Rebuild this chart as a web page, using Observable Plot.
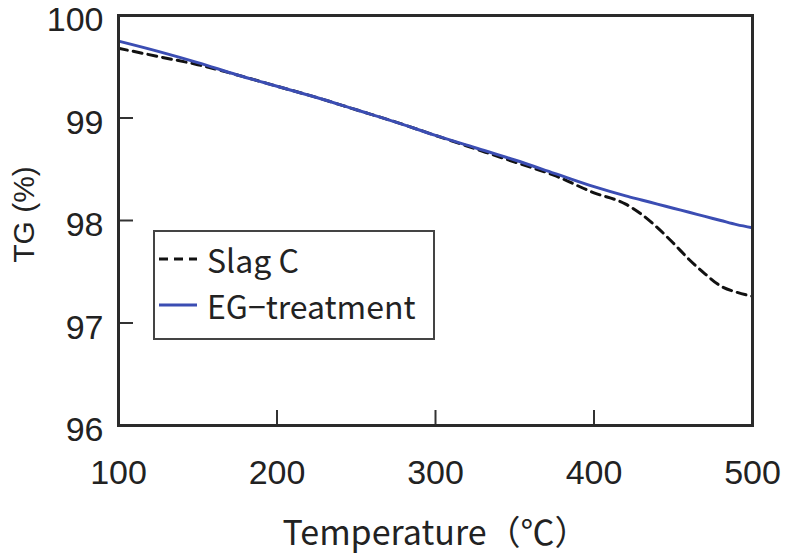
<!DOCTYPE html>
<html>
<head>
<meta charset="utf-8">
<script src="https://cdn.jsdelivr.net/npm/d3@7"></script>
<script src="https://cdn.jsdelivr.net/npm/@observablehq/plot@0.6"></script>
<style>
  html, body { margin: 0; padding: 0; background: #fff; }
  #wrap { position: relative; width: 787px; height: 556px; }
  #legend {
    position: absolute; left: 153px; top: 230px; width: 282px; height: 110px;
    border: 2px solid #444; background: #fff; box-sizing: border-box;
    font-family: "Noto Sans CJK JP", "Noto Sans", sans-serif; font-size: 32px; color: #222;
  }
  #legend .row { position: absolute; left: 0; display: flex; align-items: center; height: 40px; }
  #legend svg { display: block; }
</style>
</head>
<body>
<div id="wrap"></div>
<script>
// Temperature (°C)
const temps = [100, 125, 150, 175, 200, 225, 250, 275, 300, 325, 350, 375, 400, 420, 430, 440, 450, 460, 470, 480, 490, 500];
// Slag C (dashed) TG (%)
const slagC = [99.68, 99.60, 99.52, 99.42, 99.31, 99.20, 99.08, 98.96, 98.83, 98.70, 98.57, 98.44, 98.27, 98.16, 98.06, 97.93, 97.78, 97.62, 97.48, 97.36, 97.30, 97.26];
// EG-treatment (blue) TG (%)
const egTreat = [99.75, 99.65, 99.54, 99.42, 99.31, 99.20, 99.08, 98.96, 98.83, 98.71, 98.59, 98.46, 98.33, 98.24, 98.20, 98.16, 98.12, 98.08, 98.04, 98.00, 97.96, 97.93];
const seriesNames = ["Slag C", "EG-treatment"];
const xTicks = [100, 200, 300, 400, 500];
const yTicks = [96, 97, 98, 99, 100];
const xTitle = "Temperature（℃）";
const yTitle = "TG (%)";

const slagData = temps.map((t, i) => ({t, v: slagC[i]}));
const egData = temps.map((t, i) => ({t, v: egTreat[i]}));

const numFont = '"Liberation Sans", Arial, sans-serif';

const chart = Plot.plot({
  width: 787,
  height: 556,
  marginLeft: 118,
  marginRight: 35,
  marginTop: 15,
  marginBottom: 131,
  style: {background: "#fff", color: "#222"},
  x: {domain: [100, 500]},
  y: {domain: [96, 100]},
  marks: [
    Plot.line(slagData, {x: "t", y: "v", stroke: "#111", strokeWidth: 3, strokeDasharray: "9,6", curve: "monotone-x"}),
    Plot.line(egData, {x: "t", y: "v", stroke: "#3b4db3", strokeWidth: 3, curve: "monotone-x"}),
    Plot.tickX(xTicks.slice(1, -1), {x: d => d, insetTop: 395, stroke: "#333", strokeWidth: 2}),
    Plot.tickY(yTicks.slice(1, -1), {y: d => d, insetRight: 619, stroke: "#333", strokeWidth: 2}),
    Plot.frame({stroke: "#2a2a2a", strokeWidth: 3}),
    Plot.axisX({ticks: xTicks, tickSize: 0, tickPadding: 34, label: null, fontSize: 34, fontFamily: numFont, tickFormat: d => String(d)}),
    Plot.axisY({ticks: yTicks, tickSize: 0, tickPadding: 15, dy: 5, label: null, fontSize: 34, fontFamily: numFont, tickFormat: d => String(d)}),
    Plot.text([xTitle], {text: d => d, frameAnchor: "bottom", dy: 119, lineAnchor: "bottom", fontSize: 34, fontFamily: '"Noto Sans CJK JP", sans-serif', fill: "#222"}),
    Plot.text([yTitle], {text: d => d, frameAnchor: "left", textAnchor: "middle", dx: -94, dy: -6, rotate: -90, fontSize: 30, fontFamily: '"Liberation Sans", Arial, sans-serif', fill: "#222"})
  ]
});

const wrap = document.getElementById("wrap");
wrap.appendChild(chart);

// Legend (HTML overlay)
const legend = document.createElement("div");
legend.id = "legend";
const rows = [
  {name: seriesNames[0], stroke: "#111", dash: "9,6", top: 7},
  {name: seriesNames[1], stroke: "#3b4db3", dash: null, top: 53}
];
for (const r of rows) {
  const row = document.createElement("div");
  row.className = "row";
  row.style.top = r.top + "px";
  const ns = "http://www.w3.org/2000/svg";
  const s = document.createElementNS(ns, "svg");
  s.setAttribute("width", "52");
  s.setAttribute("height", "10");
  const l = document.createElementNS(ns, "line");
  l.setAttribute("x1", "4"); l.setAttribute("x2", "42");
  l.setAttribute("y1", "5"); l.setAttribute("y2", "5");
  l.setAttribute("stroke", r.stroke); l.setAttribute("stroke-width", "3");
  if (r.dash) l.setAttribute("stroke-dasharray", r.dash);
  s.appendChild(l);
  const span = document.createElement("span");
  span.textContent = r.name.replace("-", "\u2212");
  row.appendChild(s);
  row.appendChild(span);
  legend.appendChild(row);
}
wrap.appendChild(legend);
</script>
</body>
</html>
